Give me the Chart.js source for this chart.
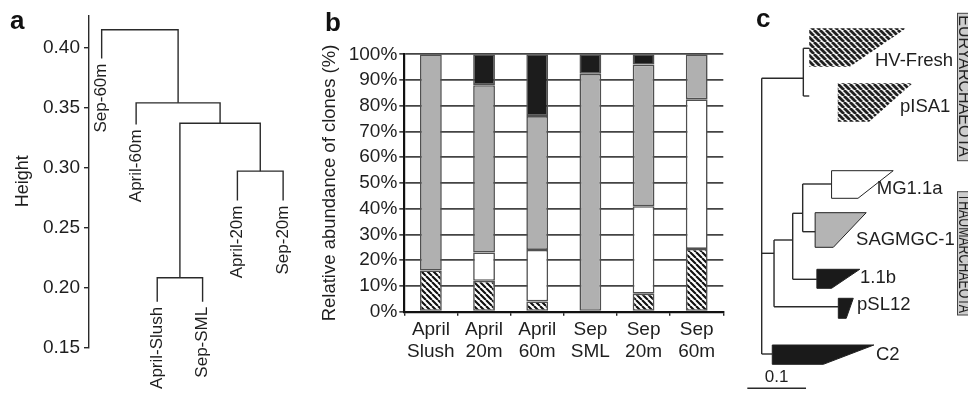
<!DOCTYPE html>
<html>
<head>
<meta charset="utf-8">
<script src="https://cdn.jsdelivr.net/npm/chart.js@4"></script>
<style>
body{margin:0;background:#fff;width:968px;height:399px;position:relative;overflow:hidden}
canvas{position:absolute;top:0}
#ca{left:0}
#cb{left:300px}
#cc{left:730px}
</style>
</head>
<body>
<canvas id="ca" width="300" height="399"></canvas>
<canvas id="cb" width="430" height="399"></canvas>
<canvas id="cc" width="238" height="399"></canvas>
<script>
// ---- a: dendrogram
const leafNames = ['Sep-60m','April-60m','April-Slush','Sep-SML','April-20m','Sep-20m']
const leafPos = [0.86,1.84,2.44,3.73,4.72,6.02]
const leafEnd = [0.391,0.336,0.188,0.188,0.2725,0.2725]
// hclust style: negative = leaf, positive = earlier merge
const mergeA = [[-3,-4],[-5,-6],[1,2],[-2,3],[-1,4]]
const mergeH = [0.208,0.297,0.337,0.354,0.415]
const heightTicks = [0.15,0.20,0.25,0.30,0.35,0.40]

// ---- b: stacked bars
const samples = [['April','Slush'],['April','20m'],['April','60m'],['Sep','SML'],['Sep','20m'],['Sep','60m']]
const hatched = [16,12,4,0,7,24.4]
const white = [0,11,20,0,34,58.1]
const grey = [84,65,52,92.4,55,17.5]
const black = [0,12,24,7.6,4,0]

// ---- c: tree (x = distance from root, y = vertical slot)
const clades = ['HV-Fresh','pISA1','MG1.1a','SAGMGC-1','1.1b','pSL12','C2']
const cladeParent = ['eury','eury','n3','n3','n2','thaum','root']
const cladeBranchY = [4.83,9.6,18.4,23.17,27.93,30.67,35.4]
const cladeBranchEnd = [0.081,0.081,0.119,0.091,0.094,0.1305,0.018]
const cladeStart = [0.081,0.1295,0.119,0.091,0.094,0.1305,0.018]
const cladeTipTop = [0.246,0.257,0.224,0.178,0.167,0.156,0.191]
const cladeTipLow = [0.150,0.183,0.164,0.122,0.119,0.144,0.105]
const cladeTop = [2.83,8.33,17.07,21.27,26.93,29.83,34.5]
const cladeBottom = [6.67,12.17,19.83,24.73,28.83,31.83,36.43]
const labelD = [0.193,0.2355,0.196,0.1607,0.1675,0.1624,0.1947]
const labelY = [6.1,10.67,18.9,24.0,27.8,30.5,35.5]
const nodes = ['root','eury','thaum','n2','n3']
const nodeParent = [null,'root','root','thaum','n2']
const nodeDepth = [0,0.0709,0.021,0.0528,0.0698]
const nodeY = [null,7.83,25.33,24.0,21.33]
const phyla = ['EURYARCHAEOTA','THAUMARCHAEOTA']
const phylumTop = [1.33,19.17]
const phylumBottom = [16.07,31.5]
const barStart = -0.0245, barLen = 0.1, barY = 38.83

Chart.defaults.font.family = '"Liberation Sans", Arial, sans-serif'
Chart.defaults.color = '#1e1e1e'
Chart.defaults.animation = false
Chart.defaults.plugins.legend.display = false
Chart.defaults.plugins.tooltip.enabled = false

const letter = {
    id: 'letter',
    afterDraw(chart, args, o) {
        const c = chart.ctx
        c.save()
        c.font = 'bold 26px "Liberation Sans", Arial, sans-serif'
        c.fillStyle = '#111'
        c.fillText(o.text, o.x, o.y)
        c.restore()
    }
}

function hatch(bg, fg, size, lw) {
    const p = document.createElement('canvas')
    p.width = p.height = size
    const g = p.getContext('2d')
    g.fillStyle = bg
    g.fillRect(0, 0, size, size)
    g.strokeStyle = fg
    g.lineWidth = lw
    g.beginPath()
    for (const k of [-size, 0, size]) { g.moveTo(k, 0); g.lineTo(k + size, size) }
    g.stroke()
    return g.createPattern(p, 'repeat')
}

const seg = (pts, color, width) => ({
    data: pts, borderColor: color || '#2a2a2a', borderWidth: width || 1.4,
    pointRadius: 0, fill: false, tension: 0
})

// ---- chart a
const nodeX = [], nodeH = []
const childPos = k => k < 0 ? [leafPos[-k-1], leafEnd[-k-1]] : [nodeX[k-1], nodeH[k-1]]
const dendro = mergeA.map(([l, r], i) => {
    const [x1, y1] = childPos(l), [x2, y2] = childPos(r)
    nodeX.push((x1 + x2) / 2); nodeH.push(mergeH[i])
    return seg([{x:x1,y:y1},{x:x1,y:mergeH[i]},{x:x2,y:mergeH[i]},{x:x2,y:y2}])
})

const leafLabels = {
    id: 'leafLabels',
    afterDatasetsDraw(chart) {
        const {ctx, scales: {x, y}} = chart
        ctx.save()
        ctx.font = '17px "Liberation Sans", Arial, sans-serif'
        ctx.fillStyle = '#1e1e1e'
        ctx.textAlign = 'right'
        ctx.textBaseline = 'middle'
        leafNames.forEach((n, i) => {
            ctx.save()
            ctx.translate(x.getPixelForValue(leafPos[i]), y.getPixelForValue(leafEnd[i]) + 5)
            ctx.rotate(-Math.PI / 2)
            ctx.fillText(n, 0, 0)
            ctx.restore()
        })
        ctx.restore()
    }
}

new Chart(document.getElementById('ca'), {
    type: 'line',
    data: {datasets: dendro},
    plugins: [letter, leafLabels],
    options: {
        responsive: false, devicePixelRatio: 1, events: [],
        layout: {padding: {left: 0, right: 0, top: 13, bottom: 51.7}},
        scales: {
            x: {type: 'linear', min: 0.5, max: 6.5, display: false},
            y: {
                min: 0.15, max: 0.427,
                afterBuildTicks: s => { s.ticks = heightTicks.map(v => ({value: v})) },
                afterFit: s => { s.width = 89 },
                ticks: {callback: v => v.toFixed(2), font: {size: 19}, padding: 4, autoSkip: false},
                grid: {drawOnChartArea: false, drawTicks: true, tickLength: 5, color: '#2a2a2a', lineWidth: 1.4},
                border: {display: true, color: '#2a2a2a', width: 1.4},
                title: {display: true, text: 'Height', font: {size: 18}, padding: {top: 12, bottom: 0}}
            }
        },
        plugins: {letter: {text: 'a', x: 10, y: 29}}
    }
})

// ---- chart b
const stripes = hatch('#fff', '#111', 6, 2.1)
const barSet = (label, data, bg) => ({
    label, data, backgroundColor: bg, borderColor: '#505050', borderWidth: 1.6,
    borderSkipped: false, barPercentage: 0.41, categoryPercentage: 1
})

new Chart(document.getElementById('cb'), {
    type: 'bar',
    data: {
        labels: samples,
        datasets: [
            barSet('hatched', hatched, stripes),
            barSet('white', white, '#ffffff'),
            barSet('grey', grey, '#b0b0b0'),
            barSet('black', black, '#1c1c1c')
        ]
    },
    plugins: [letter],
    options: {
        responsive: false, devicePixelRatio: 1, events: [],
        layout: {padding: {left: 0, right: 6.7, top: 54.3, bottom: 0}},
        scales: {
            x: {
                stacked: true,
                afterFit: s => { s.height = 87.3 },
                grid: {offset: true, drawOnChartArea: false, drawTicks: true, tickLength: 4, color: '#222', lineWidth: 1.4},
                border: {color: '#111', width: 2.2},
                ticks: {font: {size: 19, lineHeight: 1.15}, padding: 3, maxRotation: 0, autoSkip: false}
            },
            y: {
                stacked: true, min: 0, max: 100,
                afterFit: s => { s.width = 104.3 },
                ticks: {stepSize: 10, callback: v => v + '%', font: {size: 19}, padding: 2, autoSkip: false},
                grid: {color: '#444', lineWidth: 1.7, tickLength: 5},
                border: {color: '#111', width: 2.2},
                title: {display: true, text: 'Relative abundance of clones (%)', font: {size: 18.5}, padding: {top: 19, bottom: 0}}
            }
        },
        plugins: {letter: {text: 'b', x: 25, y: 31}}
    }
})

// ---- chart c
const eStripes = hatch('#f4f4f4', '#202020', 6, 2.8)
const cladeFill = [eStripes, eStripes, '#ffffff', '#b4b4b4', '#1a1a1a', '#1a1a1a', '#1a1a1a']
const cladeLine = [0, 0, 1, 1, 1, 1, 1]

const depthOf = n => nodeDepth[nodes.indexOf(n)]
const branches = []
nodes.forEach((n, i) => {
    if (!nodeParent[i]) return
    branches.push(seg([{x: depthOf(nodeParent[i]), y: nodeY[i]}, {x: nodeDepth[i], y: nodeY[i]}]))
})
clades.forEach((n, i) => {
    branches.push(seg([{x: depthOf(cladeParent[i]), y: cladeBranchY[i]}, {x: cladeBranchEnd[i], y: cladeBranchY[i]}]))
})
nodes.forEach((n, i) => {
    const ys = []
    nodes.forEach((m, j) => { if (nodeParent[j] === n) ys.push(nodeY[j]) })
    clades.forEach((m, j) => { if (cladeParent[j] === n) ys.push(cladeBranchY[j]) })
    branches.push(seg([{x: nodeDepth[i], y: Math.min(...ys)}, {x: nodeDepth[i], y: Math.max(...ys)}]))
})
const shapes = clades.map((n, i) => ({
    data: [
        {x: cladeStart[i], y: cladeTop[i]}, {x: cladeTipTop[i], y: cladeTop[i]},
        {x: cladeTipLow[i], y: cladeBottom[i]}, {x: cladeStart[i], y: cladeBottom[i]},
        {x: cladeStart[i], y: cladeTop[i]}
    ],
    fill: 'shape', backgroundColor: cladeFill[i], borderColor: '#222',
    borderWidth: cladeLine[i], pointRadius: 0, tension: 0
}))
const scaleBar = seg([{x: barStart, y: barY}, {x: barStart + barLen, y: barY}], '#2a2a2a', 1.4)

const treeText = {
    id: 'treeText',
    afterDatasetsDraw(chart) {
        const {ctx, scales: {x, y}} = chart
        ctx.save()
        ctx.font = '18.5px "Liberation Sans", Arial, sans-serif'
        ctx.fillStyle = '#1e1e1e'
        ctx.textBaseline = 'middle'
        clades.forEach((n, i) => ctx.fillText(n, x.getPixelForValue(labelD[i]), y.getPixelForValue(labelY[i])))
        ctx.textAlign = 'center'
        ctx.font = '17px "Liberation Sans", Arial, sans-serif'
        ctx.fillText('0.1', x.getPixelForValue(barStart + barLen / 2), y.getPixelForValue(barY) - 11)
        phyla.forEach((p, i) => {
            const t = y.getPixelForValue(phylumTop[i]), b = y.getPixelForValue(phylumBottom[i])
            ctx.fillStyle = '#cdcdcd'
            ctx.strokeStyle = '#444'
            ctx.lineWidth = 1
            ctx.fillRect(227.5, t, 30, b - t)
            ctx.strokeRect(227.5, t, 30, b - t)
            ctx.save()
            ctx.translate(228.8, t + 2)
            ctx.rotate(Math.PI / 2)
            ctx.font = '16px "Liberation Sans", Arial, sans-serif'
            ctx.textAlign = 'left'
            ctx.textBaseline = 'alphabetic'
            ctx.fillStyle = '#222'
            ctx.fillText(p, 0, 0, b - t - 4)
            ctx.restore()
        })
        ctx.restore()
    }
}

new Chart(document.getElementById('cc'), {
    type: 'line',
    data: {datasets: [...branches, ...shapes, scaleBar]},
    plugins: [letter, treeText],
    options: {
        responsive: false, devicePixelRatio: 1, events: [],
        layout: {padding: 0},
        scales: {
            x: {type: 'linear', min: -0.054, max: 0.3514, display: false},
            y: {type: 'linear', min: 0, max: 39.9, reverse: true, display: false}
        },
        plugins: {letter: {text: 'c', x: 26, y: 27}}
    }
})
</script>
</body>
</html>
